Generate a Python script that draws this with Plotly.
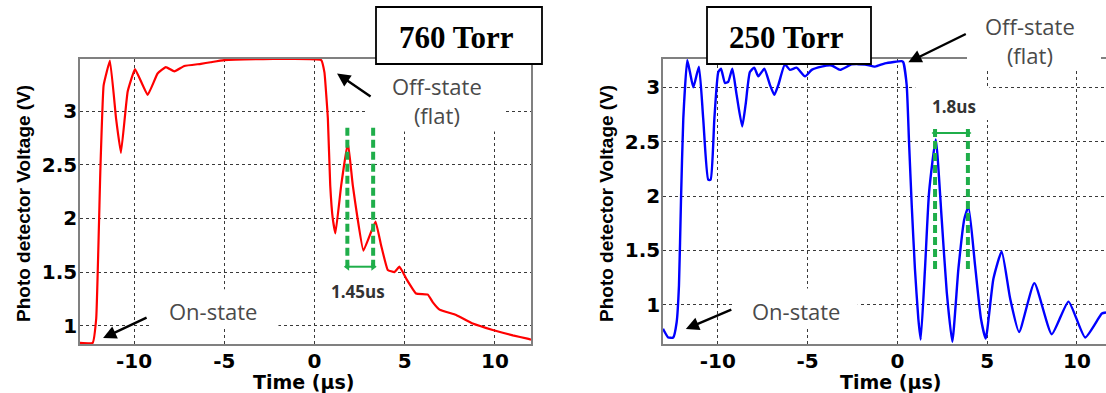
import plotly.graph_objects as go

# ---------------- data ----------------
t_760 = [-13, -12.3, -12.1, -11.87, -11.69, -11.34, -11.0, -10.73, -10.36, -9.95, -9.25,
         -8.7, -8.24, -7.77, -7.22, -6.3, -5.76, -5.0, 0.37, 0.55, 0.74, 0.87, 1.01, 1.16,
         1.48, 1.85, 2.12, 2.71, 3.38, 3.69, 4.06, 4.43, 4.71, 5.08, 5.63, 6.28, 6.55,
         6.93, 7.85, 8.77, 9.88, 10.99, 11.8, 12.0]
v_760 = [0.84, 0.84, 1.07, 2.46, 3.24, 3.47, 2.93, 2.61, 3.18, 3.39, 3.15,
         3.35, 3.41, 3.37, 3.42, 3.44, 3.455, 3.475, 3.475, 3.36, 2.93, 2.31, 2.0, 1.86,
         2.31, 2.71, 2.31, 1.70, 1.97, 1.75, 1.52, 1.50, 1.55, 1.44, 1.30, 1.29, 1.22,
         1.15, 1.10, 1.02, 0.96, 0.91, 0.88, 0.87]

t_250 = [-13.05, -12.76, -12.48, -12.29, -12.16, -12.05, -11.92, -11.70, -11.55, -11.36,
         -11.05, -10.81, -10.53, -10.40, -10.19, -9.97, -9.82, -9.60, -9.42, -9.19, -8.95,
         -8.64, -8.45, -8.21, -7.97, -7.74, -7.41, -7.09, -6.85, -6.63, -6.26, -5.98, -5.61,
         -5.14, -4.77, -4.22, -3.66, -3.19, -2.55, -1.8, -1.24, -0.69, 0.24, 0.33, 0.52,
         0.65, 0.80, 0.98, 1.17, 1.30, 1.54, 1.77, 2.14, 2.47, 2.75, 3.06, 3.40, 3.73,
         3.96, 4.33, 4.66, 4.92, 5.35, 5.81, 6.28, 6.78, 7.63, 8.60, 9.53, 10.46, 11.39, 11.62]
v_250 = [0.78, 0.70, 0.70, 0.84, 1.18, 1.95, 2.71, 3.25, 3.14, 3.0,
         3.19, 2.71, 2.15, 2.15, 2.71, 3.14, 3.17, 3.04, 3.05, 3.17, 2.93,
         2.64, 2.84, 3.14, 3.18, 3.10, 3.17, 3.02, 2.93, 3.02, 3.21, 3.16, 3.18,
         3.10, 3.16, 3.19, 3.20, 3.16, 3.21, 3.21, 3.19, 3.22, 3.24, 3.23, 3.02,
         2.50, 1.92, 1.33, 0.87, 0.68, 1.33, 2.04, 2.52, 1.79, 1.12, 0.66, 1.33, 1.79,
         1.90, 1.36, 0.87, 0.69, 1.24, 1.49, 1.06, 0.75, 1.20, 0.73, 1.03, 0.70, 0.92, 0.93]

# period markers (green) : peak times and vertical extent
mark_t_760 = [1.82, 3.25]
mark_v_760 = [1.54, 2.85]
arrow_v_760 = 1.55
mark_t_250 = [2.1, 3.93]
mark_v_250 = [1.33, 2.62]
arrow_v_250 = 2.58

x_ticks = [-10, -5, 0, 5, 10]
x_ticktext = ["-10", "-5", "0", "5", "10"]
y_ticks = [1, 1.5, 2, 2.5, 3]
y_ticktext = ["1", "1.5", "2", "2.5", "3"]
panel_titles = ["760 Torr", "250 Torr"]
period_labels = ["1.45us", "1.8us"]

# ---------------- figure ----------------
W, H = 1106, 393
GREEN = "#1fae4a"

fig = go.Figure()
fig.add_trace(go.Scatter(x=t_760, y=v_760, mode="lines",
                         line=dict(color="#ff0000", width=2.2, shape="spline", smoothing=0.3),
                         xaxis="x", yaxis="y"))
fig.add_trace(go.Scatter(x=t_250, y=v_250, mode="lines",
                         line=dict(color="#0000ff", width=2.4, shape="spline", smoothing=0.5),
                         xaxis="x2", yaxis="y2"))

for tm, vm, va, xa, ya in [(mark_t_760, mark_v_760, arrow_v_760, "x", "y"),
                           (mark_t_250, mark_v_250, arrow_v_250, "x2", "y2")]:
    for tt in tm:
        fig.add_trace(go.Scatter(x=[tt, tt], y=vm, mode="lines",
                                 line=dict(color=GREEN, width=4, dash="8px,4px"),
                                 xaxis=xa, yaxis=ya))
    fig.add_trace(go.Scatter(x=tm, y=[va, va], mode="lines+markers",
                             line=dict(color=GREEN, width=2),
                             marker=dict(symbol=["triangle-left", "triangle-right"], size=7,
                                         color=GREEN),
                             xaxis=xa, yaxis=ya))

tickfont = dict(family="DejaVu Sans", size=20, color="black", weight="bold")
common = dict(showgrid=True, gridcolor="#3a3a3a", griddash="dot", gridwidth=1,
              showline=True, linecolor="#808080", linewidth=1.5, zeroline=False,
              ticks="", tickfont=tickfont, fixedrange=True)

yd = [1 - 344 / H, 1 - 59 / H]
fig.update_layout(
    width=W, height=H, margin=dict(l=0, r=0, t=0, b=0),
    paper_bgcolor="white", plot_bgcolor="white", showlegend=False,
    xaxis=dict(domain=[80 / W, 531 / W], range=[-13, 12], tickvals=x_ticks,
               ticktext=x_ticktext, mirror=True, anchor="y", ticklabelstandoff=-2, **common),
    yaxis=dict(domain=yd, range=[0.83, 3.485], tickvals=y_ticks, ticktext=y_ticktext,
               mirror=True, anchor="x", ticklabelstandoff=-3, **common),
    xaxis2=dict(domain=[663 / W, 1.0], range=[-13.05, 11.62], tickvals=x_ticks,
                ticktext=x_ticktext, mirror=True, anchor="y2", ticklabelstandoff=-2, **common),
    yaxis2=dict(domain=yd, range=[0.64, 3.26], tickvals=y_ticks, ticktext=y_ticktext,
                mirror=False, anchor="x2", ticklabelstandoff=-3, **common),
)

# white text-background patches that interrupt the grid (between grid and traces)
masks = [("x", "y", 2.96, 10.45, 2.81, 3.6),
         ("x", "y", 0.3, 4.6, 1.19, 1.53),
         ("x", "y", -9.1, -2.0, 0.97, 1.34),
         ("x2", "y2", -9.05, -2.2, 0.78, 1.15),
         ("x2", "y2", 1.0, 5.13, 2.70, 3.01),
         ("x2", "y2", 3.79, 11.25, 3.16, 3.4)]
for xr, yr, x0, x1, y0, y1 in masks:
    fig.add_shape(type="rect", xref=xr, yref=yr, x0=x0, x1=x1, y0=y0, y1=y1,
                  fillcolor="white", line=dict(width=0), layer="between")

# gap in the top frame of the right panel (behind the off-state label)
fig.add_shape(type="rect", xref="paper", yref="paper", x0=967 / W, x1=1101 / W,
              y0=1 - 64 / H, y1=1 - 54 / H, fillcolor="white", line=dict(width=0),
              layer="above")

ctr = dict(xanchor="center", yanchor="middle", showarrow=False)

# title boxes
for (x0, x1), txt in zip([(376, 542), (707, 871)], panel_titles):
    fig.add_shape(type="rect", xref="paper", yref="paper", x0=x0 / W, x1=x1 / W,
                  y0=1 - 64 / H, y1=1 - 7 / H, fillcolor="white",
                  line=dict(color="black", width=1.8), layer="above")
    fig.add_annotation(xref="paper", yref="paper", x=(x0 + x1) / 2 / W - 3 / W,
                       y=1 - 37 / H, text=txt, **ctr,
                       font=dict(family="Liberation Serif", size=31, color="black",
                                 weight="bold"))

# axis titles
for xc in [23, 606]:
    fig.add_annotation(xref="paper", yref="paper", x=xc / W, y=1 - 204 / H,
                       text="Photo detector Voltage (V)", textangle=-90, **ctr,
                       font=dict(family="Liberation Sans", size=19, color="black",
                                 weight="bold"))
for xc in [303, 890]:
    fig.add_annotation(xref="paper", yref="paper", x=xc / W, y=1 - 382 / H,
                       text="Time (\u00b5s)", **ctr,
                       font=dict(family="DejaVu Sans", size=19, color="black",
                                 weight="bold"))

lab = dict(family="Open Sans", size=22, color="#4a4a4a")
# state labels
fig.add_annotation(xref="x", yref="y", x=6.79, y=3.10, text="Off-state<br>(flat)",
                   font=lab, **ctr)
fig.add_annotation(xref="paper", yref="paper", x=1030 / W, y=1 - 40 / H,
                   text="Off-state<br>(flat)", font=lab, **ctr)
fig.add_annotation(xref="x", yref="y", x=-5.63, y=1.137, text="On-state", font=lab, **ctr)
fig.add_annotation(xref="x2", yref="y2", x=-5.65, y=0.943, text="On-state", font=lab, **ctr)

# arrows
arr = dict(showarrow=True, arrowhead=2, arrowsize=1.1, arrowwidth=2.4,
           arrowcolor="black", text="", axref="pixel", ayref="pixel")
fig.add_annotation(xref="x", yref="y", x=1.25, y=3.35, ax=35, ay=24, **arr)
fig.add_annotation(xref="x", yref="y", x=-11.72, y=0.886, ax=45, ay=-21, **arr)
fig.add_annotation(xref="x2", yref="y2", x=-11.78, y=0.778, ax=47, ay=-20, **arr)
fig.add_annotation(xref="x2", yref="y2", x=0.61, y=3.23, ax=59, ay=-29, **arr)

# period labels
pf = dict(family="Open Sans", size=17, color="#333333", weight="bold")
fig.add_annotation(xref="x", yref="y", x=2.41, y=1.323, text=period_labels[0], font=pf, **ctr)
fig.add_annotation(xref="x2", yref="y2", x=3.18, y=2.827, text=period_labels[1], font=pf, **ctr)

fig.write_html("out.html")
